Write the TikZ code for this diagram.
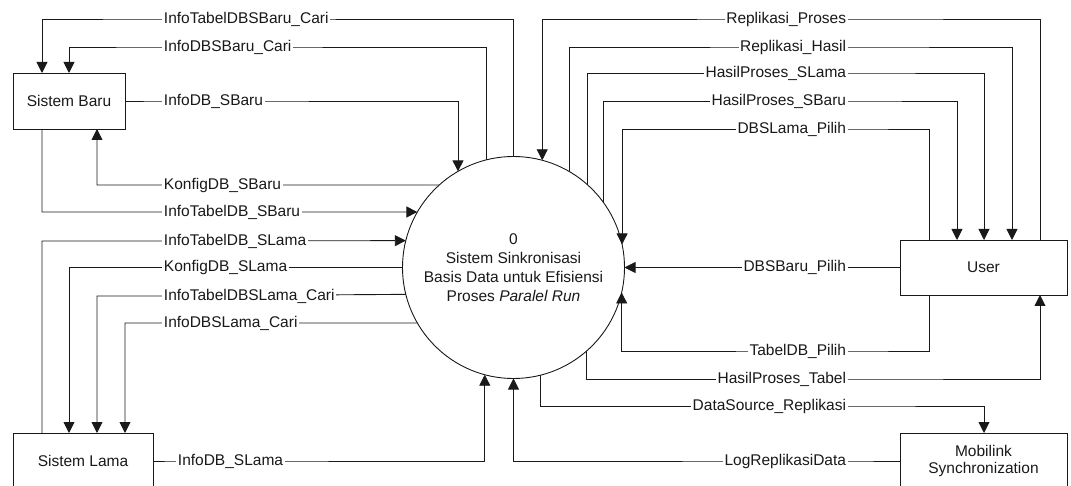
\documentclass[tikz,border=0pt]{standalone}
\usepackage{fontspec}
\setmainfont{Liberation Sans}
\usetikzlibrary{arrows.meta}
\begin{document}
\begin{tikzpicture}[x=1bp,y=-1bp,
  every node/.style={font=\fontsize{15.5bp}{19bp}\selectfont, text=black!90},
  box/.style={draw=black!90, line width=0.9bp, inner sep=0pt, outer sep=0pt, align=center},
  flow/.style={draw=black!90, line width=0.9bp, -{Triangle[width=11bp,length=11bp]}},
  lblw/.style={anchor=base west, fill=white, inner xsep=1.5bp, inner ysep=0pt, text height=11bp, text depth=3.5bp, yshift=-4.5bp},
  lble/.style={anchor=base east, fill=white, inner xsep=1.5bp, inner ysep=0pt, text height=11bp, text depth=3.5bp, yshift=-4.5bp}]
\useasboundingbox (0,0) rectangle (1071,486);
\clip (0,0) rectangle (1071,486);

% nodes
\node[box, minimum width=112bp, minimum height=56bp] (sb) at (69,101) {Sistem Baru};
\node[box, minimum width=140bp, minimum height=56bp] (sl) at (83,461) {Sistem Lama};
\node[box, minimum width=167bp, minimum height=55bp] (u) at (983.5,267.5) {User};
\node[box, minimum width=167bp, minimum height=56bp] (m) at (983.5,461) {Mobilink\\[-2bp]Synchronization};
\node[draw=black!90, line width=0.9bp, circle, minimum size=222bp, inner sep=0pt, outer sep=0pt, align=center] (c) at (513.5,267.5)
  {0\\Sistem Sinkronisasi\\Basis Data untuk Efisiensi\\Proses \textit{Paralel Run}};

% left top: Sistem Baru
\draw[flow] (c.north) -- (c.north |- 0,19) -- (162,19) node[lblw]{InfoTabelDBSBaru\_Cari} -- (42,19) -- (sb.north -| 42,0);
\draw[flow] (c.104.34) -- (c.104.34 |- 0,47) -- (162,47) node[lblw]{InfoDBSBaru\_Cari} -- (69,47) -- (sb.north -| 69,0);
\draw[flow] (sb.east) -- (162,101) node[lblw]{InfoDB\_SBaru} -- (c.120 |- 0,101) -- (c.120);
\draw[flow] (c.132) -- (162,185) node[lblw]{KonfigDB\_SBaru} -- (97,185) -- (sb.south -| 97,0);
\draw[flow] (sb.south -| 42,0) -- (42,212) -- (162,212) node[lblw]{InfoTabelDB\_SBaru} -- (c.150);

% left bottom: Sistem Lama
\draw[flow] (sl.north -| 42,0) -- (42,241) -- (162,241) node[lblw]{InfoTabelDB\_SLama} -- (c.166.19);
\draw[flow] (c.west) -- (162,267.5) node[lblw]{KonfigDB\_SLama} -- (69,267.5) -- (sl.north -| 69,0);
\draw[flow] (c.194.88) -- (162,296) node[lblw]{InfoTabelDBSLama\_Cari} -- (97,296) -- (sl.north -| 97,0);
\draw[flow] (c.210) -- (162,323) node[lblw]{InfoDBSLama\_Cari} -- (125,323) -- (sl.north -| 125,0);
\draw[flow] (sl.east) -- (176,461) node[lblw]{InfoDB\_SLama} -- (c.255.66 |- 0,461) -- (c.255.66);

% right: User
\draw[flow] (u.north -| 1040,0) -- (1040,19) -- (848,19) node[lble]{Replikasi\_Proses} -- (c.75.12 |- 0,19) -- (c.75.12);
\draw[flow] (c.60) -- (c.60 |- 0,47) -- (848,47) node[lble]{Replikasi\_Hasil} -- (1012,47) -- (u.north -| 1012,0);
\draw[flow] (c.48.53) -- (c.48.53 |- 0,73) -- (848,73) node[lble]{HasilProses\_SLama} -- (984,73) -- (u.north -| 984,0);
\draw[flow] (c.36.26) -- (c.36.26 |- 0,101) -- (848,101) node[lble]{HasilProses\_SBaru} -- (957,101) -- (u.north -| 957,0);
\draw[flow] (u.north -| 929,0) -- (929,129) -- (848,129) node[lble]{DBSLama\_Pilih} -- (c.12.19 |- 0,129) -- (c.12.19);
\draw[flow] (u.west) -- (848,267.5) node[lble]{DBSBaru\_Pilih} -- (c.east);
\draw[flow] (u.south -| 929,0) -- (929,351) -- (848,351) node[lble]{TabelDB\_Pilih} -- (c.347.81 |- 0,351) -- (c.347.81);
\draw[flow] (c.311.47) -- (c.311.47 |- 0,379) -- (848,379) node[lble]{HasilProses\_Tabel} -- (1040,379) -- (u.south -| 1040,0);

% Mobilink
\draw[flow] (c.284.88) -- (c.284.88 |- 0,406) -- (848,406) node[lble]{DataSource\_Replikasi} -- (984,406) -- (m.north -| 984,0);
\draw[flow] (m.west) -- (848,461) node[lble]{LogReplikasiData} -- (c.south |- 0,461) -- (c.south);
\end{tikzpicture}
\end{document}
